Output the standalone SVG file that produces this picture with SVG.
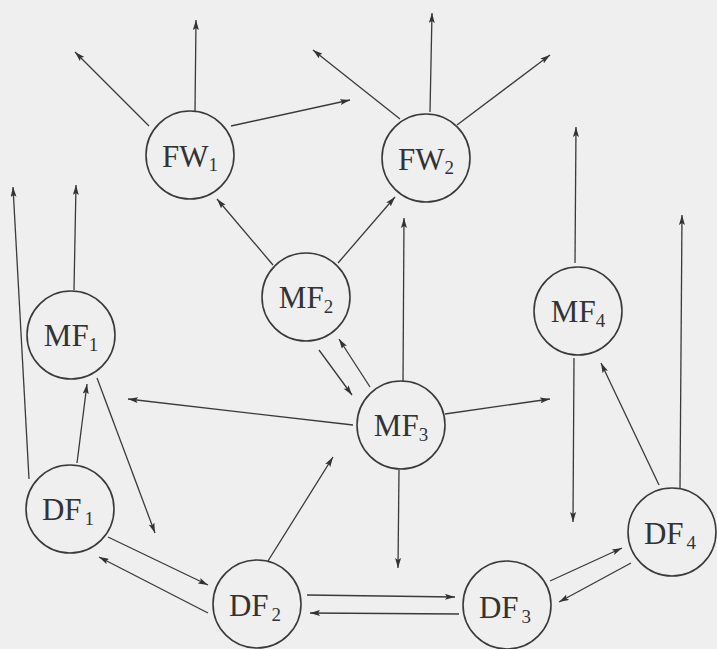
<svg xmlns="http://www.w3.org/2000/svg" width="717" height="649" viewBox="0 0 717 649">
<defs>
<style>
.bg{fill:#efefef}
.node circle{fill:none;stroke:#3a3a3a;stroke-width:1.6}
.node text{font-family:"Liberation Serif","DejaVu Serif",serif;font-size:31px;fill:#333;text-anchor:middle}
.sub{font-size:19px}
.edges line{stroke:#3a3a3a;stroke-width:1.3;marker-end:url(#ah)}
</style>
<marker id="ah" markerUnits="userSpaceOnUse" viewBox="0 0 10 6" refX="10" refY="3" markerWidth="10" markerHeight="6" orient="auto">
<path d="M0,0 L10,3 L0,6 L2,3 Z" fill="#333"/>
</marker>
</defs>
<rect class="bg" x="0" y="0" width="717" height="649"/>
<g id="connectors" class="edges">
<line x1="149" y1="126" x2="75" y2="52"/>
<line x1="195" y1="111" x2="196" y2="20"/>
<line x1="231" y1="126" x2="350" y2="100"/>
<line x1="400" y1="119" x2="313" y2="50"/>
<line x1="430" y1="112" x2="432" y2="13"/>
<line x1="457" y1="125" x2="550" y2="55"/>
<line x1="273" y1="265" x2="217" y2="199"/>
<line x1="338" y1="263" x2="395" y2="197"/>
<line x1="403" y1="382" x2="404" y2="218"/>
<line x1="74" y1="290" x2="76" y2="185"/>
<line x1="29" y1="479" x2="13" y2="187"/>
<line x1="77" y1="463" x2="87" y2="384"/>
<line x1="97" y1="378" x2="155" y2="533"/>
<line x1="108" y1="537" x2="208" y2="585"/>
<line x1="208" y1="613" x2="99" y2="557"/>
<line x1="268" y1="561" x2="333" y2="457"/>
<line x1="307" y1="595" x2="455" y2="597"/>
<line x1="459" y1="614" x2="310" y2="613"/>
<line x1="353" y1="425" x2="128" y2="399"/>
<line x1="445" y1="414" x2="550" y2="399"/>
<line x1="399" y1="470" x2="398" y2="568"/>
<line x1="319" y1="350" x2="352" y2="395"/>
<line x1="370" y1="387" x2="339" y2="339"/>
<line x1="575" y1="263" x2="576" y2="127"/>
<line x1="574" y1="358" x2="573" y2="522"/>
<line x1="659" y1="485" x2="601" y2="363"/>
<line x1="680" y1="488" x2="682" y2="215"/>
<line x1="550" y1="581" x2="622" y2="548"/>
<line x1="631" y1="563" x2="559" y2="602"/>
</g>
<g id="FW1" class="node"><circle cx="190" cy="155" r="44"/><text x="190" y="167">FW<tspan class="sub" dy="4">1</tspan></text></g>
<g id="FW2" class="node"><circle cx="426" cy="158" r="44"/><text x="426" y="170">FW<tspan class="sub" dy="4">2</tspan></text></g>
<g id="MF1" class="node"><circle cx="71" cy="335" r="44"/><text x="71" y="346">MF<tspan class="sub" dy="5">1</tspan></text></g>
<g id="MF2" class="node"><circle cx="306" cy="297" r="44"/><text x="306" y="308">MF<tspan class="sub" dy="5">2</tspan></text></g>
<g id="MF3" class="node"><circle cx="401" cy="425" r="44"/><text x="401" y="436">MF<tspan class="sub" dy="5">3</tspan></text></g>
<g id="MF4" class="node"><circle cx="578" cy="311" r="44"/><text x="578" y="322">MF<tspan class="sub" dy="5">4</tspan></text></g>
<g id="DF1" class="node"><circle cx="70" cy="509" r="44"/><text x="68" y="520">DF<tspan class="sub" dx="3" dy="5">1</tspan></text></g>
<g id="DF2" class="node"><circle cx="257" cy="604" r="44"/><text x="255" y="616">DF<tspan class="sub" dx="3" dy="5">2</tspan></text></g>
<g id="DF3" class="node"><circle cx="507" cy="605" r="44"/><text x="505" y="618">DF<tspan class="sub" dx="3" dy="5">3</tspan></text></g>
<g id="DF4" class="node"><circle cx="672" cy="532" r="44"/><text x="670" y="544">DF<tspan class="sub" dx="3" dy="5">4</tspan></text></g>
</svg>
